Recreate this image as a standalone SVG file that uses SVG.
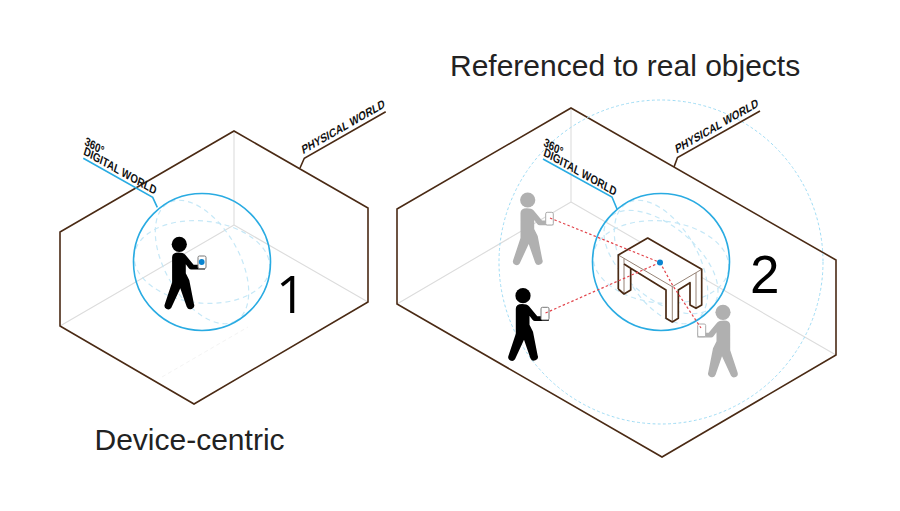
<svg xmlns="http://www.w3.org/2000/svg" width="900" height="511" viewBox="0 0 900 511">
<style>
.room{fill:none;stroke:#4a2a14;stroke-width:1.6;stroke-linejoin:miter}
.inner{fill:none;stroke:#dcdcdc;stroke-width:1.1}
.sphere{fill:none;stroke:#29abe2;stroke-width:1.6}
.dash{fill:none;stroke:#c6e8f7;stroke-width:1.2;stroke-dasharray:5 4}
.big{fill:none;stroke:#9fdcf5;stroke-width:1;stroke-dasharray:2.8 2.4}
.ray{fill:none;stroke:#e2454c;stroke-width:1.2;stroke-dasharray:2.5 2.2}
.lead{fill:none;stroke:#29abe2;stroke-width:1.6}
.leadp{fill:none;stroke:#4a2a14;stroke-width:1.6}
.tag{font-family:"Liberation Sans",Arial,sans-serif;font-size:10.4px;font-weight:700;fill:#111}
.title{font-family:"Liberation Sans",Arial,sans-serif;font-size:30px;fill:#222}
.num{font-family:"Liberation Sans",Arial,sans-serif;font-size:53px;fill:#000}
.phone{fill:#fff;stroke:#777;stroke-width:1}
.phoneg{fill:#fff;stroke:#aaa;stroke-width:1}
.tthick{fill:none;stroke:#4a2a14;stroke-width:1.7;stroke-linejoin:round}
.tthin{fill:none;stroke:#8a7566;stroke-width:.9}
</style>
<defs>
<g id="man">
<circle cx="0" cy="0" r="7.6"/>
<path d="M-7.2,13 Q-7.2,8.2 -1,8.2 Q4,8.2 6,10.5 L14.3,20.5 H25.7 V25.2 H12 Q10.5,25.2 9.5,24 L6.5,20 V29 L10,36 L14.6,59.5 A3.7,3.7 0 0 1 7.4,62.5 L1,44 L-8,63.5 A3.7,3.7 0 0 1 -14.6,60.3 L-7.2,38 Z"/>
</g>
<g id="circles">
<ellipse cx="0" cy="0" rx="68" ry="41" transform="rotate(6)"/>
<ellipse cx="0" cy="0" rx="68" ry="37" transform="rotate(60)"/>
</g>
</defs>

<g id="room-1">
<path class="inner" d="M234,131V225M234,225L60,326M234,225L368,302"/>
<path d="M162,377L248,327" fill="none" stroke="#f0f0f0" stroke-width=".8" stroke-dasharray="4 3"/>
<path class="room" d="M234,131L368,208V302L194,404L60,326V232Z"/>
</g>
<g id="room-2">
<path class="inner" d="M571,108V202M571,202L397,304M571,202L836,355"/>
<path class="room" d="M571,108L836,260V355L662,457L397,304V209Z"/>
</g>

<g id="sphere-1">
<use href="#circles" class="dash" transform="translate(202,262)"/>
<circle class="sphere" cx="202" cy="262" r="68.5"/>
</g>
<g id="sphere-2">
<circle class="big" cx="661" cy="262" r="162"/>
<use href="#circles" class="dash" transform="translate(661,262)"/>
<ellipse class="dash" cx="661" cy="262" rx="68" ry="36" transform="rotate(40 661 262)"/>
<circle class="sphere" cx="661" cy="262" r="68.5"/>
</g>

<g id="table">
<path d="M618.3,255L647.7,238L701.7,269.3V305L696,308.3L690,305V282.7L678.3,290V318.3L672.3,322L666,318.3V290L630.7,268.3V290L624,294L618.3,289Z" fill="#fff"/>
<path class="tthin" d="M618.3,255L672.3,286.7L701.7,269.3M672.3,286.7V322M624,258.5V294M696,273V308.3"/>
<path class="tthick" d="M618.3,289V255L647.7,238L701.7,269.3V305L696,308.3L690,305V282.7L678.3,290V318.3L672.3,322L666,318.3V290L630.7,268.3V290L624,294L618.3,289M624,264L630.7,268.3"/>
</g>

<g id="connectors">
<path class="lead" d="M83.3,158.3L152.7,197.3L157.3,207.3"/>
<path class="lead" d="M543,159L612,197L617,209"/>
<path class="leadp" d="M300,168L304.3,158.3L385.7,111.7"/>
<path class="leadp" d="M674,167L677.5,157.5L760,111"/>
</g>

<g id="person-1" fill="#000">
<use href="#man" transform="translate(179.3,244.3)"/>
<rect class="phone" x="198" y="256" width="8" height="12.6" rx="1.5"/>
<circle cx="201.7" cy="262" r="2.9" fill="#0a84d0"/>
</g>
<g id="person-2" fill="#b0b0b0">
<use href="#man" transform="translate(527.7,200)"/>
<rect class="phoneg" x="545.7" y="212.3" width="7.6" height="12.7" rx="1.5"/>
</g>
<g id="person-3" fill="#000">
<use href="#man" transform="translate(523,295.7)"/>
<rect class="phone" x="541" y="307.3" width="8" height="12.7" rx="1.5"/>
</g>
<g id="person-4" fill="#b0b0b0">
<use href="#man" transform="translate(723,312.3) scale(-1,1)"/>
<rect class="phoneg" x="697.7" y="324" width="8" height="12.7" rx="1.5"/>
</g>
<g id="rays">
<path class="ray" d="M550,218L660,262.5"/>
<path class="ray" d="M545.5,313L660,262.5"/>
<path class="ray" d="M660,262.5L673,286L701,328"/>
</g>
<circle id="anchor" cx="660" cy="262.5" r="3" fill="#0a84d0"/>

<g id="labels">
<text class="tag" transform="matrix(.87,.49,-.33,1.1,84,144.5)">360°</text>
<text class="tag" transform="matrix(.87,.49,-.33,1.1,83,154.3)">DIGITAL WORLD</text>
<text class="tag" transform="matrix(.87,.49,-.33,1.1,543,145.5)">360°</text>
<text class="tag" transform="matrix(.87,.49,-.33,1.1,543,155.5)">DIGITAL WORLD</text>
<text class="tag" transform="matrix(.87,-.5,.25,1.12,303,154.3)">PHYSICAL WORLD</text>
<text class="tag" transform="matrix(.87,-.5,.25,1.12,676.5,153.5)">PHYSICAL WORLD</text>
<text class="title" x="450" y="76">Referenced to real objects</text>
<text class="title" x="94.5" y="450">Device-centric</text>
<text class="num" x="276" y="313" style="font-family:'Open Sans','Liberation Sans',sans-serif;font-size:52px">1</text>
<text class="num" x="750" y="293">2</text>
</g>
</svg>
